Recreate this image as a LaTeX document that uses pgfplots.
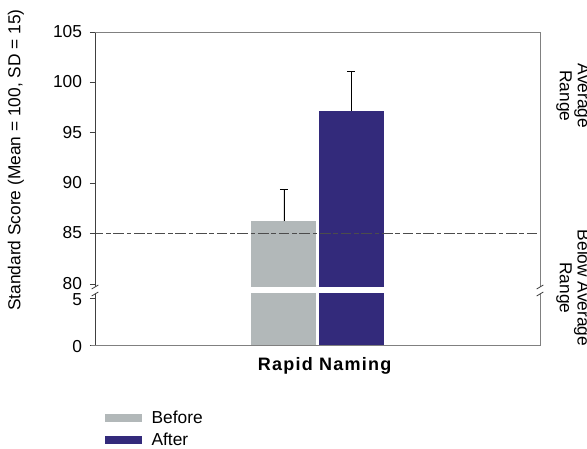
\documentclass[border=0pt]{standalone}
\usepackage{pgfplots}
\pgfplotsset{compat=1.18}
\usepackage{fontspec}
\setmainfont{Liberation Sans}
\definecolor{beforec}{HTML}{B2B8B9}
\definecolor{afterc}{HTML}{332A7B}
\definecolor{framec}{HTML}{808080}
\definecolor{axisc}{HTML}{404040}
\begin{document}
\fontsize{13}{15}\selectfont
\begin{tikzpicture}
\path[use as bounding box] (0pt,0pt) rectangle (440.25pt,336.75pt);
\pgfplotsset{
  brk/.style={
    anchor=south west, scale only axis, width=333.75pt,
    xmin=-1, xmax=1, xtick=\empty,
    ytick pos=left, tick align=outside, major tick length=3.75pt,
    axis line style={draw=none},
    major tick style={axisc, line width=0.6pt},
    /pgf/number format/assume math mode=true,
    yticklabel style={font=\fontsize{13}{15}\selectfont, xshift=-1.5pt},
    clip=true,
  },
}
% upper part 80..105
\begin{axis}[brk, name=upper, at={(71.25pt,121.5pt)}, height=191.25pt,
  ymin=79.7, ymax=105, ytick={80,85,90,95,100,105},
  yticklabel style={yshift=0.5pt}]
\addplot[ybar, bar width=48.75pt, bar shift=0pt, fill=beforec, draw=none,
  error bars/.cd, y dir=plus, y explicit,
  error bar style={black, line width=0.6pt},
  error mark options={rotate=90, mark size=3pt, black, line width=0.6pt}]
  coordinates {(-0.1506,86.2) +- (0,3.2)};
\addplot[ybar, bar width=48.75pt, bar shift=0pt, fill=afterc, draw=none,
  error bars/.cd, y dir=plus, y explicit,
  error bar style={black, line width=0.6pt},
  error mark options={rotate=90, mark size=3pt, black, line width=0.6pt}]
  coordinates {(0.1506,97.2) +- (0,3.9)};
\addplot[sharp plot, no marks, color=black!70, line width=0.7pt,
  dash pattern=on 8pt off 2pt on 3.5pt off 2pt]
  coordinates {(-1.01,85) (1,85)};
\end{axis}
% lower part 0..5
\begin{axis}[brk, name=lower, at={(71.25pt,78pt)}, height=38.25pt,
  ymin=0, ymax=5.43, ytick={0,5},
  yticklabel style={yshift=-1pt},
  legend style={at={(0.0225,-1.25)}, anchor=north west, draw=none, fill=none,
    inner sep=0pt, row sep=2.5pt, column sep=6pt,
    nodes={inner sep=1pt, text height=9.5pt, text depth=2.5pt},
    font=\fontsize{13}{15}\selectfont},
  legend cell align=left,
  legend image code/.code={\fill[#1] (0pt,-3pt) rectangle (27.75pt,3pt);}]
\addplot[ybar, bar width=48.75pt, bar shift=0pt, fill=beforec, draw=none]
  coordinates {(-0.1506,86.2)};
\addlegendentry{Before}
\addplot[ybar, bar width=48.75pt, bar shift=0pt, fill=afterc, draw=none]
  coordinates {(0.1506,97.2)};
\addlegendentry{After}
\end{axis}
% frame
\draw[axisc, line width=0.6pt] (upper.south west) -- (upper.north west);
\draw[framec, line width=0.6pt] (upper.north west) -- (upper.north east) -- (upper.south east);
\draw[axisc, line width=0.6pt] (lower.north west) -- (lower.south west);
\draw[framec, line width=0.6pt] ([xshift=-3pt]lower.south west) -- (lower.south east) -- (lower.north east);
% break marks
\foreach \a in {upper.south west, lower.north west, upper.south east, lower.north east}{
  \draw[axisc, line width=0.6pt] ([xshift=-2.5pt,yshift=-1.5pt]\a) -- ([xshift=2.5pt,yshift=1.5pt]\a);
}
% labels
\node[rotate=90] at (12pt,216.75pt) {Standard Score (Mean = 100, SD = 15)};
\node[font=\fontsize{13.5}{15}\selectfont\bfseries\addfontfeature{LetterSpace=7}] at (243.5pt,62.25pt) {Rapid Naming};
\node[rotate=-90] at (436.5pt,264.75pt) {Average};
\node[rotate=-90] at (423pt,264.75pt) {Range};
\node[rotate=-90] at (436.5pt,120.75pt) {Below Average};
\node[rotate=-90] at (423pt,120.75pt) {Range};
\end{tikzpicture}
\end{document}
